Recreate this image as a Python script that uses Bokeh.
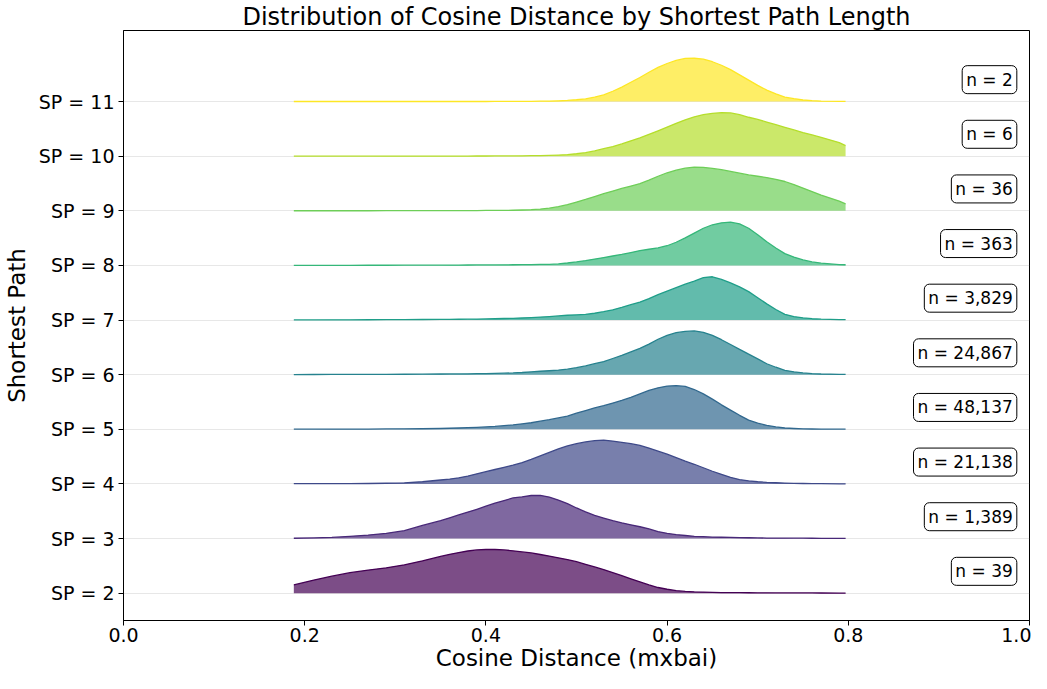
from bokeh.plotting import figure
from bokeh.models import Range1d, FixedTicker, Label, PrintfTickFormatter
from bokeh.embed import file_html
from bokeh.resources import INLINE

# ---- data ----
sp_values = [2, 3, 4, 5, 6, 7, 8, 9, 10, 11]
sp_labels = ["SP = %d" % s for s in sp_values]
n_values = [39, 1389, 21138, 48137, 24867, 3829, 363, 36, 6, 2]
colors = ["#440154", "#482878", "#3e4989", "#31688e", "#26828e",
          "#1f9e89", "#35b779", "#6ece58", "#b5de2b", "#fde725"]

x_grid = [0.188, 0.21, 0.23, 0.25, 0.27, 0.29, 0.31, 0.33, 0.35,
          0.36, 0.37, 0.38, 0.39, 0.40, 0.41, 0.42, 0.43, 0.44, 0.45,
          0.46, 0.47, 0.48, 0.49, 0.50, 0.51, 0.52, 0.53, 0.54, 0.55,
          0.56, 0.57, 0.58, 0.59, 0.60, 0.61, 0.62, 0.63, 0.64, 0.65,
          0.66, 0.67, 0.68, 0.69, 0.70, 0.71, 0.72, 0.73, 0.74, 0.75,
          0.76, 0.77, 0.79, 0.797]

# relative density (peak = 1) for each shortest-path length
density_sp2 = [0.19, 0.30, 0.39, 0.47, 0.53, 0.58, 0.65, 0.74, 0.84,
               0.89, 0.93, 0.965, 0.99, 1.0, 1.0, 0.99, 0.97, 0.945, 0.92,
               0.885, 0.85, 0.81, 0.77, 0.72, 0.66, 0.60, 0.54, 0.47, 0.40,
               0.33, 0.26, 0.19, 0.13, 0.09, 0.06, 0.04, 0.03, 0.025, 0.02,
               0.015, 0.012, 0.011, 0.01, 0.009, 0.008, 0.007, 0.006, 0.006, 0.005,
               0.005, 0.004, 0.003, 0.003]
density_sp3 = [0.007, 0.015, 0.025, 0.05, 0.08, 0.12, 0.18, 0.30, 0.41,
               0.475, 0.54, 0.605, 0.67, 0.74, 0.81, 0.87, 0.93, 0.955, 0.985,
               0.99, 0.95, 0.88, 0.80, 0.70, 0.61, 0.53, 0.47, 0.41, 0.36,
               0.315, 0.27, 0.22, 0.16, 0.12, 0.09, 0.07, 0.05, 0.042, 0.035,
               0.03, 0.025, 0.021, 0.018, 0.015, 0.012, 0.011, 0.01, 0.009, 0.008,
               0.007, 0.006, 0.005, 0.005]
density_sp4 = [0.005, 0.005, 0.006, 0.008, 0.01, 0.015, 0.025, 0.05, 0.09,
               0.11, 0.14, 0.18, 0.23, 0.28, 0.33, 0.38, 0.43, 0.49, 0.56,
               0.64, 0.72, 0.80, 0.87, 0.92, 0.96, 0.99, 1.0, 0.98, 0.95,
               0.92, 0.88, 0.82, 0.75, 0.68, 0.60, 0.52, 0.45, 0.37, 0.29,
               0.22, 0.15, 0.10, 0.07, 0.05, 0.035, 0.027, 0.02, 0.014, 0.01,
               0.007, 0.005, 0.003, 0.003]
density_sp5 = [0.002, 0.003, 0.004, 0.005, 0.006, 0.008, 0.01, 0.012, 0.018,
               0.024, 0.03, 0.037, 0.045, 0.055, 0.066, 0.082, 0.10, 0.125, 0.15,
               0.185, 0.22, 0.26, 0.30, 0.37, 0.43, 0.49, 0.54, 0.60, 0.66,
               0.73, 0.81, 0.89, 0.95, 0.99, 1.0, 0.98, 0.91, 0.81, 0.69,
               0.56, 0.44, 0.32, 0.21, 0.14, 0.09, 0.055, 0.03, 0.018, 0.01,
               0.007, 0.005, 0.003, 0.003]
density_sp6 = [0.003, 0.004, 0.005, 0.006, 0.007, 0.008, 0.01, 0.012, 0.015,
               0.016, 0.018, 0.02, 0.022, 0.026, 0.03, 0.035, 0.04, 0.05, 0.065,
               0.078, 0.09, 0.105, 0.125, 0.16, 0.20, 0.25, 0.30, 0.37, 0.44,
               0.52, 0.60, 0.70, 0.81, 0.90, 0.96, 0.99, 1.0, 0.97, 0.90,
               0.80, 0.69, 0.58, 0.47, 0.36, 0.25, 0.17, 0.10, 0.065, 0.04,
               0.025, 0.015, 0.008, 0.006]
density_sp7 = [0.003, 0.003, 0.004, 0.005, 0.006, 0.008, 0.01, 0.012, 0.015,
               0.016, 0.018, 0.02, 0.022, 0.026, 0.03, 0.035, 0.04, 0.047, 0.055,
               0.067, 0.08, 0.095, 0.11, 0.12, 0.13, 0.155, 0.19, 0.235, 0.29,
               0.35, 0.41, 0.49, 0.58, 0.66, 0.74, 0.82, 0.89, 0.97, 0.99,
               0.93, 0.85, 0.76, 0.65, 0.51, 0.37, 0.24, 0.13, 0.08, 0.05,
               0.03, 0.02, 0.01, 0.008]
density_sp8 = [0.002, 0.002, 0.003, 0.003, 0.004, 0.004, 0.005, 0.005, 0.006,
               0.007, 0.008, 0.009, 0.01, 0.011, 0.012, 0.013, 0.015, 0.017, 0.02,
               0.022, 0.025, 0.035, 0.055, 0.08, 0.11, 0.145, 0.18, 0.215, 0.25,
               0.295, 0.34, 0.37, 0.40, 0.45, 0.53, 0.63, 0.74, 0.85, 0.93,
               0.975, 0.99, 0.95, 0.85, 0.70, 0.54, 0.40, 0.27, 0.19, 0.125,
               0.08, 0.05, 0.02, 0.015]
density_sp9 = [0.001, 0.001, 0.001, 0.001, 0.001, 0.002, 0.002, 0.002, 0.003,
               0.003, 0.004, 0.004, 0.005, 0.007, 0.009, 0.01, 0.012, 0.018, 0.025,
               0.04, 0.06, 0.095, 0.14, 0.20, 0.26, 0.325, 0.39, 0.45, 0.51,
               0.565, 0.62, 0.70, 0.79, 0.87, 0.93, 0.975, 1.0, 0.995, 0.97,
               0.94, 0.90, 0.86, 0.82, 0.79, 0.76, 0.72, 0.67, 0.60, 0.52,
               0.44, 0.36, 0.22, 0.16]
density_sp10 = [0.0, 0.0, 0.0, 0.0, 0.0, 0.001, 0.001, 0.001, 0.002,
                0.002, 0.002, 0.002, 0.003, 0.003, 0.004, 0.004, 0.005, 0.007, 0.01,
                0.013, 0.018, 0.025, 0.035, 0.055, 0.08, 0.12, 0.17, 0.22, 0.28,
                0.35, 0.42, 0.50, 0.58, 0.665, 0.75, 0.83, 0.90, 0.95, 0.98,
                0.995, 0.99, 0.95, 0.89, 0.84, 0.78, 0.72, 0.66, 0.60, 0.54,
                0.485, 0.43, 0.31, 0.24]
density_sp11 = [0.0, 0.0, 0.0, 0.0, 0.0, 0.0, 0.0, 0.0, 0.0,
                0.0, 0.0, 0.0, 0.0, 0.0, 0.001, 0.001, 0.002, 0.003, 0.005,
                0.007, 0.01, 0.016, 0.025, 0.04, 0.06, 0.10, 0.15, 0.235, 0.33,
                0.44, 0.55, 0.67, 0.78, 0.87, 0.94, 0.985, 0.99, 0.97, 0.91,
                0.83, 0.73, 0.61, 0.49, 0.37, 0.26, 0.175, 0.10, 0.065, 0.035,
                0.02, 0.01, 0.003, 0.002]

densities = [density_sp2, density_sp3, density_sp4, density_sp5, density_sp6,
             density_sp7, density_sp8, density_sp9, density_sp10, density_sp11]

x_ticks = [0.0, 0.2, 0.4, 0.6, 0.8, 1.0]
ridge_scale = 0.8
FONT = "DejaVu Sans"

p = figure(width=1031, height=673, output_backend="svg", toolbar_location=None,
           x_range=Range1d(0, 1), y_range=Range1d(1.5, 12.3),
           title="Distribution of Cosine Distance by Shortest Path Length",
           min_border_left=108, min_border_right=2, min_border_top=0,
           min_border_bottom=0)

p.title.align = "center"
p.title.text_font = FONT
p.title.text_font_size = "24px"
p.title.text_font_style = "normal"
p.title.text_color = "black"
p.title.standoff = 0

p.xgrid.grid_line_color = None
p.ygrid.grid_line_color = "#b0b0b0"
p.ygrid.grid_line_alpha = 0.3
p.ygrid.grid_line_width = 1

p.outline_line_color = "black"
p.outline_line_alpha = 1
p.outline_line_width = 1

for ax in (p.xaxis, p.yaxis):
    ax.axis_line_color = "black"
    ax.major_tick_line_color = "black"
    ax.minor_tick_line_color = None
    ax.major_tick_out = 5
    ax.major_tick_in = 0
    ax.major_label_text_font = FONT
    ax.major_label_text_font_size = "19px"
    ax.major_label_text_color = "black"
    ax.axis_label_text_font = FONT
    ax.axis_label_text_font_size = "23px"
    ax.axis_label_text_font_style = "normal"
    ax.axis_label_text_color = "black"

p.xaxis.ticker = FixedTicker(ticks=x_ticks)
p.xaxis.formatter = PrintfTickFormatter(format="%.1f")
p.xaxis.axis_label = "Cosine Distance (mxbai)"
p.xaxis.major_label_standoff = 2
p.xaxis.axis_label_standoff = 0

p.yaxis.ticker = FixedTicker(ticks=sp_values)
p.yaxis.major_label_overrides = {s: lab for s, lab in zip(sp_values, sp_labels)}
p.yaxis.axis_label = "Shortest Path"
p.yaxis.major_label_standoff = 4
p.yaxis.axis_label_standoff = 6

for sp, dens, col, n in zip(sp_values, densities, colors, n_values):
    top = [sp + ridge_scale * d for d in dens]
    p.varea(x=x_grid, y1=[sp] * len(x_grid), y2=top, fill_color=col, fill_alpha=0.7)
    p.line(x=x_grid, y=top, line_color=col, line_width=1.3, line_join="round")
    p.add_layout(Label(x=0.986, y=sp + 0.4, text="n = {:,}".format(n),
                       text_align="right", text_baseline="middle",
                       text_font=FONT, text_font_size="17px", text_color="black",
                       background_fill_color="white", background_fill_alpha=1,
                       border_line_color="black", border_line_width=1,
                       border_radius=5, padding=4))

open("out.html", "w").write(file_html(p, INLINE))
